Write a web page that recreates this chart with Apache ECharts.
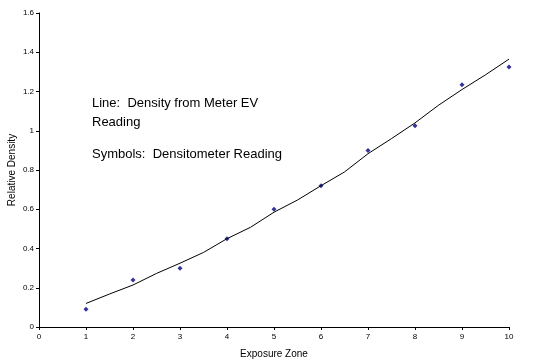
<!DOCTYPE html>
<html>
<head>
<meta charset="utf-8">
<script src="https://cdn.jsdelivr.net/npm/echarts@6/dist/echarts.min.js"></script>
<style>html,body{margin:0;padding:0;background:#fff}#c{width:540px;height:362px}</style>
</head>
<body>
<div id="c"></div>
<script>
// Line: density from meter EV reading
var lineX = [1, 1.5, 2, 2.5, 3, 3.5, 4, 4.5, 5, 5.5, 6, 6.5, 7, 7.5, 8, 8.5, 9, 9.5, 10];
var lineY = [0.12, 0.168, 0.214, 0.273, 0.325, 0.38, 0.45, 0.508, 0.585, 0.647, 0.72, 0.79, 0.883, 0.96, 1.04, 1.13, 1.21, 1.285, 1.365];
// Symbols: densitometer reading
var symX = [1, 2, 3, 4, 5, 6, 7, 8, 9, 10];
var symY = [0.09, 0.24, 0.30, 0.45, 0.60, 0.72, 0.90, 1.025, 1.235, 1.325];
var annotations = ["Line:  Density from Meter EV", "Reading", "Symbols:  Densitometer Reading"];

var chart = echarts.init(document.getElementById('c'), null, {renderer: 'canvas'});
var tickFont = {fontFamily: 'Liberation Sans, Arial, sans-serif', fontSize: 8, color: '#000'};
var annFont = '13px "Liberation Sans", Arial, sans-serif';
chart.setOption({
  animation: false,
  backgroundColor: '#fff',
  grid: {left: 39, right: 31, top: 13, bottom: 35, containLabel: false, outerBoundsMode: 'none'},
  xAxis: {
    type: 'value', min: 0, max: 10, interval: 1,
    name: 'Exposure Zone', nameLocation: 'middle', nameGap: 22, nameMoveOverlap: false,
    nameTextStyle: {fontFamily: 'Liberation Sans, Arial, sans-serif', fontSize: 10, color: '#000'},
    axisLine: {lineStyle: {color: '#000', width: 1}},
    axisTick: {show: true, length: 3, inside: false, lineStyle: {color: '#000'}},
    axisLabel: Object.assign({margin: 6}, tickFont),
    splitLine: {show: false}
  },
  yAxis: {
    type: 'value', min: 0, max: 1.6, interval: 0.2,
    name: 'Relative Density', nameLocation: 'middle', nameGap: 22, nameRotate: 90, nameMoveOverlap: false,
    nameTextStyle: {fontFamily: 'Liberation Sans, Arial, sans-serif', fontSize: 10, color: '#000'},
    axisLine: {show: true, lineStyle: {color: '#000', width: 1}},
    axisTick: {show: true, length: 3, inside: false, lineStyle: {color: '#000'}},
    axisLabel: Object.assign({margin: 5, formatter: function(v){return String(Math.round(v*10)/10);}}, tickFont),
    splitLine: {show: false}
  },
  graphic: [
    {type: 'text', left: 92, top: 97, style: {text: annotations[0], font: annFont, fill: '#000'}},
    {type: 'text', left: 92, top: 116, style: {text: annotations[1], font: annFont, fill: '#000'}},
    {type: 'text', left: 92, top: 148, style: {text: annotations[2], font: annFont, fill: '#000'}}
  ],
  series: [
    {
      type: 'line', data: lineX.map(function(x, i){return [x, lineY[i]];}),
      showSymbol: false, symbol: 'none', smooth: false,
      lineStyle: {color: '#000', width: 1}
    },
    {
      type: 'scatter', data: symX.map(function(x, i){return [x, symY[i]];}),
      symbol: 'diamond', symbolSize: 5,
      itemStyle: {color: '#000080'}
    }
  ]
});
</script>
</body>
</html>
